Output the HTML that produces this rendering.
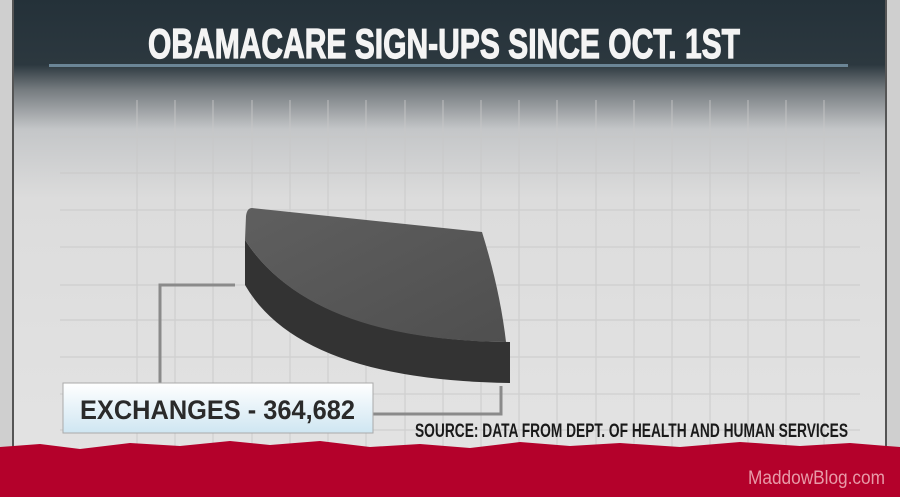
<!DOCTYPE html>
<html><head><meta charset="utf-8"><style>
body{margin:0;width:900px;height:497px;overflow:hidden;background:#d8d8d8;font-family:"Liberation Sans",sans-serif}
svg{display:block}
</style></head><body>
<svg width="900" height="497" viewBox="0 0 900 497">
<defs>
<linearGradient id="bg" x1="0" y1="0" x2="0" y2="1">
<stop offset="0" stop-color="#243139"/>
<stop offset="0.13" stop-color="#2c383f"/>
<stop offset="0.18" stop-color="#757b7f"/>
<stop offset="0.26" stop-color="#c4c6c8"/>
<stop offset="0.4" stop-color="#dcdcdc"/>
<stop offset="1" stop-color="#e4e4e4"/>
</linearGradient>
<linearGradient id="box" x1="0" y1="0" x2="0" y2="1">
<stop offset="0" stop-color="#ffffff"/>
<stop offset="1" stop-color="#cfe6f2"/>
</linearGradient>
<linearGradient id="top" x1="0" y1="0" x2="1" y2="1">
<stop offset="0" stop-color="#5f5f5f"/>
<stop offset="1" stop-color="#4f4f4f"/>
</linearGradient>
</defs>
<rect width="900" height="497" fill="url(#bg)"/>
<g stroke="#c8c8c8" stroke-width="1.2" opacity="0.7">
<line x1="137" y1="100" x2="137" y2="450"/><line x1="175" y1="100" x2="175" y2="450"/><line x1="213" y1="100" x2="213" y2="450"/><line x1="252" y1="100" x2="252" y2="450"/><line x1="290" y1="100" x2="290" y2="450"/><line x1="328" y1="100" x2="328" y2="450"/><line x1="366" y1="100" x2="366" y2="450"/><line x1="405" y1="100" x2="405" y2="450"/><line x1="443" y1="100" x2="443" y2="450"/><line x1="481" y1="100" x2="481" y2="450"/><line x1="519" y1="100" x2="519" y2="450"/><line x1="557" y1="100" x2="557" y2="450"/><line x1="596" y1="100" x2="596" y2="450"/><line x1="634" y1="100" x2="634" y2="450"/><line x1="672" y1="100" x2="672" y2="450"/><line x1="710" y1="100" x2="710" y2="450"/><line x1="748" y1="100" x2="748" y2="450"/><line x1="786" y1="100" x2="786" y2="450"/><line x1="824" y1="100" x2="824" y2="450"/>
<line x1="60" y1="137" x2="860" y2="137"/><line x1="60" y1="173" x2="860" y2="173"/><line x1="60" y1="210" x2="860" y2="210"/><line x1="60" y1="247" x2="860" y2="247"/><line x1="60" y1="285" x2="860" y2="285"/><line x1="60" y1="320" x2="860" y2="320"/><line x1="60" y1="357" x2="860" y2="357"/><line x1="60" y1="394" x2="860" y2="394"/><line x1="60" y1="430" x2="860" y2="430"/>
</g>
<rect x="0" y="0" width="13" height="497" fill="#cfcfcf"/><rect x="12" y="0" width="2" height="497" fill="#555"/>
<rect x="886" y="0" width="14" height="497" fill="#cfcfcf"/><rect x="885" y="0" width="2" height="497" fill="#555"/>
<text x="148" y="58" font-size="42" font-weight="bold" fill="#f4f4f4" stroke="#f4f4f4" stroke-width="1.2" textLength="592" lengthAdjust="spacingAndGlyphs" style="font-weight:900">OBAMACARE SIGN-UPS SINCE OCT. 1ST</text>
<rect x="49" y="64" width="799" height="3" fill="#6b8596"/>
<g fill="none" stroke="#8a8a8a" stroke-width="3">
<polyline points="235,285 160,285 160,385"/>
<polyline points="372,414 501,414 501,386"/>
</g>
<path d="M245 240 L245 285 Q300 380 510 383 L510 342 Q310 340 245 240Z" fill="#333"/>
<path d="M252 208 L482 232 Q500 290 506 342 Q310 340 245 240 L246 216 Q247 208 252 208Z" fill="url(#top)"/>
<rect x="63" y="383" width="310" height="50" fill="url(#box)" stroke="#aaa"/>
<text x="80" y="419" font-size="27" font-weight="bold" fill="#2a2a2a" textLength="275" lengthAdjust="spacingAndGlyphs">EXCHANGES - 364,682</text>
<text x="415" y="437" font-size="19" font-weight="bold" fill="#1a1a1a" textLength="433" lengthAdjust="spacingAndGlyphs">SOURCE: DATA FROM DEPT. OF HEALTH AND HUMAN SERVICES</text>
<path d="M0 447 L40 444 L80 449 L130 443 L180 446 L230 441 L270 445 L320 441 L370 447 L420 444 L470 448 L520 442 L570 446 L620 443 L680 447 L740 442 L800 446 L850 443 L900 447 L900 497 L0 497Z" fill="#b4012b"/>
<text x="748" y="484" font-size="19" fill="#e89aa8" textLength="137" lengthAdjust="spacingAndGlyphs">MaddowBlog.com</text>
</svg>
</body></html>
